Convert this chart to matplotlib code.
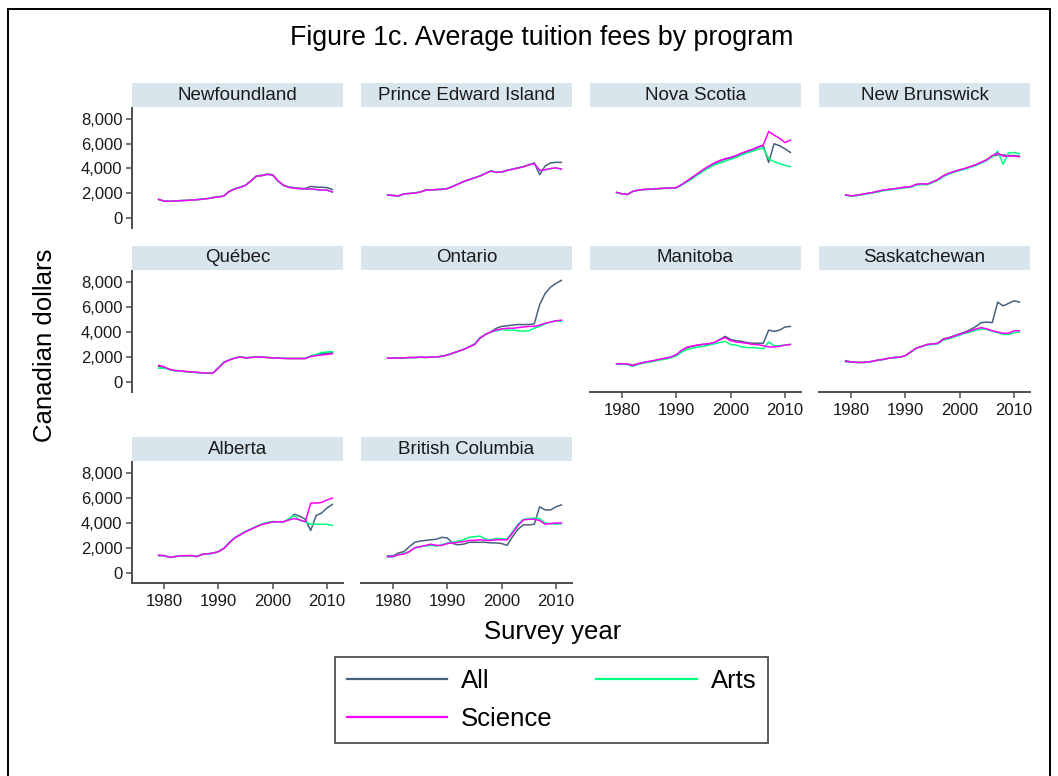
import matplotlib
matplotlib.use("Agg")
import matplotlib.pyplot as plt
from matplotlib.lines import Line2D

plt.rcParams["font.family"] = ["Liberation Sans", "DejaVu Sans"]

years = list(range(1979, 2012))

provinces = ["Newfoundland", "Prince Edward Island", "Nova Scotia", "New Brunswick",
             "Québec", "Ontario", "Manitoba", "Saskatchewan",
             "Alberta", "British Columbia"]

# Average tuition (Canadian dollars), 1979-2011
nl_all = [1500, 1370, 1350, 1380, 1400, 1420, 1450, 1480, 1520, 1570, 1650, 1700, 1780, 2150, 2350, 2480,
          2650, 3000, 3400, 3450, 3550, 3500, 3000, 2650, 2500, 2450, 2400, 2380, 2550, 2500, 2480, 2450, 2300]
nl_arts = [1490, 1360, 1340, 1370, 1390, 1410, 1440, 1470, 1510, 1560, 1640, 1690, 1770, 2140, 2340, 2470,
           2640, 2990, 3380, 3420, 3520, 3460, 2980, 2630, 2470, 2400, 2360, 2330, 2330, 2290, 2240, 2240, 2090]
nl_sci = [1500, 1360, 1340, 1370, 1390, 1410, 1440, 1470, 1510, 1560, 1640, 1690, 1770, 2140, 2340, 2470,
          2640, 2990, 3380, 3420, 3520, 3460, 2980, 2630, 2470, 2400, 2360, 2340, 2350, 2300, 2250, 2250, 2100]

pe_all = [1850, 1820, 1780, 1950, 1980, 2020, 2100, 2250, 2270, 2300, 2320, 2380, 2550, 2750, 2950, 3100,
          3250, 3400, 3600, 3800, 3700, 3720, 3850, 3950, 4050, 4150, 4300, 4450, 3500, 4200, 4450, 4500, 4500]
pe_arts = [1840, 1810, 1770, 1940, 1970, 2010, 2090, 2240, 2260, 2290, 2310, 2370, 2540, 2740, 2940, 3090,
           3240, 3390, 3590, 3790, 3690, 3710, 3840, 3940, 4040, 4140, 4290, 4400, 3840, 3890, 3990, 4040, 3940]
pe_sci = [1850, 1810, 1770, 1940, 1970, 2010, 2090, 2240, 2260, 2290, 2310, 2370, 2540, 2740, 2940, 3090,
          3240, 3390, 3590, 3790, 3690, 3710, 3840, 3940, 4040, 4140, 4290, 4400, 3850, 3900, 4000, 4050, 3950]

ns_all = [2060, 1950, 1900, 2150, 2250, 2300, 2320, 2350, 2380, 2400, 2420, 2450, 2700, 3000, 3300, 3600,
          3900, 4150, 4400, 4600, 4750, 4850, 5000, 5200, 5350, 5500, 5700, 5850, 4500, 6000, 5850, 5600, 5300]
ns_arts = [2050, 1940, 1890, 2140, 2240, 2290, 2310, 2340, 2370, 2390, 2410, 2430, 2650, 2920, 3200, 3500,
           3800, 4050, 4300, 4450, 4600, 4750, 4900, 5100, 5250, 5400, 5550, 5650, 4800, 4550, 4400, 4250, 4150]
ns_sci = [2060, 1940, 1900, 2150, 2250, 2300, 2320, 2350, 2380, 2400, 2420, 2450, 2700, 3000, 3300, 3620,
          3930, 4200, 4450, 4650, 4800, 4900, 5050, 5250, 5400, 5550, 5750, 5900, 7000, 6700, 6450, 6100, 6300]

nb_all = [1850, 1780, 1820, 1900, 1980, 2050, 2150, 2250, 2300, 2350, 2420, 2480, 2520, 2700, 2750, 2720,
          2900, 3100, 3400, 3600, 3750, 3880, 4000, 4150, 4300, 4500, 4700, 5000, 5100, 5100, 5050, 5050, 5000]
nb_arts = [1830, 1760, 1800, 1870, 1950, 2020, 2110, 2200, 2260, 2310, 2380, 2440, 2480, 2650, 2700, 2680,
           2850, 3050, 3350, 3550, 3700, 3830, 3950, 4100, 4250, 4450, 4650, 4950, 5400, 4350, 5250, 5300, 5200]
nb_sci = [1860, 1790, 1830, 1910, 1990, 2060, 2160, 2260, 2310, 2360, 2430, 2490, 2530, 2710, 2760, 2730,
          2910, 3110, 3410, 3610, 3760, 3890, 4010, 4160, 4310, 4510, 4710, 5050, 5250, 5000, 5000, 5000, 4950]

qc_all = [1250, 1150, 1000, 900, 880, 820, 800, 760, 720, 700, 700, 1100, 1550, 1750, 1900, 2000,
          1920, 1950, 2000, 1980, 1950, 1920, 1900, 1880, 1870, 1870, 1870, 1870, 2050, 2150, 2250, 2300, 2350]
qc_arts = [1100, 1100, 980, 880, 860, 800, 780, 740, 700, 690, 690, 1120, 1580, 1770, 1920, 2010,
           1940, 1970, 2010, 1990, 1960, 1930, 1910, 1890, 1880, 1880, 1880, 1880, 2080, 2200, 2350, 2400, 2420]
qc_sci = [1320, 1200, 1000, 900, 880, 820, 800, 760, 720, 700, 700, 1100, 1550, 1750, 1900, 2000,
          1920, 1950, 2000, 1980, 1950, 1920, 1900, 1880, 1870, 1870, 1870, 1870, 2030, 2100, 2150, 2200, 2250]

on_all = [1900, 1900, 1900, 1920, 1950, 1950, 1980, 1960, 1980, 2000, 2050, 2150, 2300, 2450, 2600, 2800,
          3000, 3500, 3800, 4000, 4300, 4450, 4500, 4550, 4600, 4600, 4600, 4650, 6200, 7100, 7600, 7900, 8150]
on_arts = [1890, 1890, 1890, 1900, 1930, 1940, 1960, 1950, 1970, 1990, 2040, 2140, 2290, 2440, 2600, 2820,
           3050, 3520, 3800, 3980, 4100, 4200, 4150, 4150, 4100, 4050, 4100, 4300, 4450, 4650, 4800, 4900, 4850]
on_sci = [1900, 1900, 1900, 1920, 1950, 1950, 1980, 1960, 1980, 2000, 2050, 2150, 2300, 2450, 2600, 2800,
          3000, 3500, 3800, 4000, 4150, 4250, 4300, 4300, 4350, 4400, 4450, 4450, 4550, 4700, 4800, 4900, 4950]

mb_all = [1450, 1450, 1420, 1350, 1450, 1550, 1620, 1700, 1800, 1880, 1980, 2150, 2500, 2750, 2850, 2950,
          3000, 3050, 3150, 3400, 3650, 3400, 3300, 3250, 3150, 3100, 3100, 3100, 4150, 4050, 4150, 4400, 4450]
mb_arts = [1400, 1400, 1380, 1250, 1400, 1500, 1570, 1650, 1750, 1830, 1930, 2080, 2400, 2600, 2700, 2800,
           2850, 2950, 3050, 3150, 3250, 3000, 2950, 2800, 2750, 2750, 2720, 2650, 3200, 2900, 2900, 2950, 3000]
mb_sci = [1440, 1440, 1420, 1300, 1450, 1560, 1640, 1720, 1820, 1900, 2000, 2180, 2550, 2780, 2880, 2960,
          3020, 3060, 3160, 3380, 3550, 3300, 3200, 3150, 3100, 3000, 2980, 2900, 2800, 2800, 2850, 2950, 3000]

sk_all = [1700, 1600, 1570, 1560, 1580, 1650, 1750, 1800, 1900, 1950, 1980, 2100, 2400, 2700, 2850, 3000,
          3050, 3100, 3450, 3550, 3700, 3850, 4000, 4200, 4450, 4750, 4800, 4750, 6400, 6100, 6300, 6500, 6400]
sk_arts = [1620, 1580, 1550, 1540, 1570, 1640, 1740, 1790, 1890, 1940, 1970, 2080, 2380, 2680, 2820, 2960,
           3000, 3050, 3350, 3450, 3600, 3750, 3900, 4000, 4150, 4250, 4200, 4050, 3950, 3800, 3800, 3950, 4000]
sk_sci = [1630, 1590, 1560, 1550, 1580, 1650, 1750, 1800, 1900, 1950, 1980, 2100, 2400, 2700, 2840, 2990,
          3040, 3090, 3420, 3520, 3670, 3820, 3950, 4100, 4250, 4350, 4250, 4100, 4000, 3900, 3900, 4100, 4100]

ab_all = [1400, 1380, 1250, 1300, 1370, 1370, 1380, 1300, 1480, 1520, 1580, 1700, 1950, 2400, 2800, 3050,
          3300, 3500, 3700, 3900, 4000, 4100, 4100, 4100, 4300, 4700, 4550, 4300, 3400, 4600, 4800, 5200, 5500]
ab_arts = [1390, 1370, 1240, 1300, 1360, 1360, 1370, 1300, 1470, 1510, 1570, 1690, 1960, 2420, 2820, 3080,
           3330, 3520, 3730, 3920, 4050, 4120, 4100, 4100, 4350, 4600, 4200, 4100, 3900, 3900, 3900, 3900, 3800]
ab_sci = [1400, 1380, 1250, 1300, 1370, 1370, 1380, 1300, 1480, 1520, 1580, 1700, 1950, 2400, 2800, 3050,
          3300, 3500, 3700, 3880, 3980, 4080, 4100, 4100, 4250, 4350, 4250, 4100, 5600, 5600, 5650, 5850, 6000]

bc_all = [1350, 1350, 1600, 1700, 2100, 2450, 2550, 2600, 2650, 2700, 2850, 2800, 2350, 2250, 2300, 2450,
          2450, 2450, 2450, 2400, 2400, 2350, 2200, 2900, 3500, 3850, 3850, 3900, 5300, 5050, 5050, 5300, 5450]
bc_arts = [1250, 1300, 1450, 1550, 1700, 2000, 2100, 2150, 2200, 2150, 2250, 2400, 2450, 2550, 2650, 2850,
           2900, 2950, 2700, 2650, 2750, 2750, 2700, 3300, 3900, 4300, 4350, 4400, 4350, 4000, 3950, 3900, 3950]
bc_sci = [1300, 1300, 1450, 1500, 1700, 2000, 2100, 2200, 2300, 2200, 2200, 2350, 2400, 2450, 2500, 2600,
          2600, 2650, 2600, 2600, 2650, 2650, 2650, 3200, 3800, 4250, 4300, 4300, 4200, 3900, 3950, 4000, 4000]

series_all = [nl_all, pe_all, ns_all, nb_all, qc_all, on_all, mb_all, sk_all, ab_all, bc_all]
series_arts = [nl_arts, pe_arts, ns_arts, nb_arts, qc_arts, on_arts, mb_arts, sk_arts, ab_arts, bc_arts]
series_sci = [nl_sci, pe_sci, ns_sci, nb_sci, qc_sci, on_sci, mb_sci, sk_sci, ab_sci, bc_sci]

y_ticks = [0, 2000, 4000, 6000, 8000]
y_tick_labels = ["0", "2,000", "4,000", "6,000", "8,000"]
x_ticks = [1980, 1990, 2000, 2010]
x_tick_labels = ["1980", "1990", "2000", "2010"]

COL_ALL = "#46627c"
COL_ARTS = "#00ff80"
COL_SCI = "#ff00ff"
STRIP = "#d9e5ec"
AXC = "#4d4d4d"
TXT = "#1a1a1a"

W, H = 1058, 776
fig = plt.figure(figsize=(W / 100, H / 100), dpi=100)
fig.patch.set_facecolor("white")

# frame around the whole graphic
fig.add_artist(plt.Rectangle((8 / W, -0.01), (1050 - 8) / W, 1.01 - 9 / H,
                             transform=fig.transFigure, fill=False, edgecolor="black",
                             linewidth=1.4))


def fbox(x0, y0, x1, y1):
    return [x0 / W, 1 - y1 / H, (x1 - x0) / W, (y1 - y0) / H]


col_x = [132, 361, 590, 819]
panel_w = 211
row_y = [(108, 228), (271, 392), (462, 583)]
strip_h = 25

# the lowest panel of each column carries the year axis
x_axis_panels = {6, 7, 8, 9}

for i, name in enumerate(provinces):
    r, c = divmod(i, 4)
    x0 = col_x[c]
    y0, y1 = row_y[r]
    ax = fig.add_axes(fbox(x0, y0, x0 + panel_w, y1))
    ax.plot(years, series_all[i], color=COL_ALL, lw=1.1, zorder=3)
    ax.plot(years, series_arts[i], color=COL_ARTS, lw=1.1, zorder=4)
    ax.plot(years, series_sci[i], color=COL_SCI, lw=1.1, zorder=5)
    ax.set_xlim(1974.1, 2012.95)
    ax.set_ylim(-820, 8900)
    for s in ["top", "right"]:
        ax.spines[s].set_visible(False)
    ax.spines["left"].set_visible(c == 0)
    ax.spines["bottom"].set_visible(i in x_axis_panels)
    for s in ["left", "bottom"]:
        ax.spines[s].set_color(AXC)
        ax.spines[s].set_linewidth(1.4)
    if c == 0:
        ax.set_yticks(y_ticks)
        ax.set_yticklabels(y_tick_labels)
        ax.tick_params(axis="y", length=4, width=1.1, color=AXC, pad=3,
                       labelsize=12, labelcolor=TXT)
    else:
        ax.set_yticks([])
    if i in x_axis_panels:
        ax.set_xticks(x_ticks)
        ax.set_xticklabels(x_tick_labels)
        ax.tick_params(axis="x", length=4, width=1.1, color=AXC, pad=4,
                       labelsize=12, labelcolor=TXT)
    else:
        ax.set_xticks([])
    ax.patch.set_alpha(0)

    sax = fig.add_axes(fbox(x0, y0 - strip_h, x0 + panel_w, y0 - 1))
    sax.set_facecolor(STRIP)
    sax.set_xticks([])
    sax.set_yticks([])
    for s in sax.spines.values():
        s.set_visible(False)
    sax.text(0.5, 0.5, name, ha="center", va="center", fontsize=13.5,
             color=TXT, transform=sax.transAxes)

fig.text(542 / W, 1 - 38 / H, "Figure 1c. Average tuition fees by program",
         ha="center", va="center", fontsize=19.3, color="black")
fig.text(45 / W, 1 - 345 / H, "Canadian dollars", rotation=90,
         ha="center", va="center", fontsize=18.5, color="black")
fig.text(553 / W, 1 - 632 / H, "Survey year",
         ha="center", va="center", fontsize=18.5, color="black")

handles = [Line2D([], [], color=COL_ALL, lw=1.6),
           Line2D([], [], color=COL_SCI, lw=1.6),
           Line2D([], [], color=COL_ARTS, lw=1.6)]
labels = ["All", "Science", "Arts"]
leg = fig.legend(handles, labels, ncol=2, loc="center",
                 bbox_to_anchor=(551.5 / W, 1 - 700 / H),
                 fontsize=18.5, frameon=True, fancybox=False,
                 handlelength=3.9, handletextpad=0.55, columnspacing=1.7,
                 labelspacing=0.55, borderpad=0.45, borderaxespad=0)
leg.get_frame().set_edgecolor("#333333")
leg.get_frame().set_linewidth(1.4)

fig.savefig("out.png", dpi=100)
